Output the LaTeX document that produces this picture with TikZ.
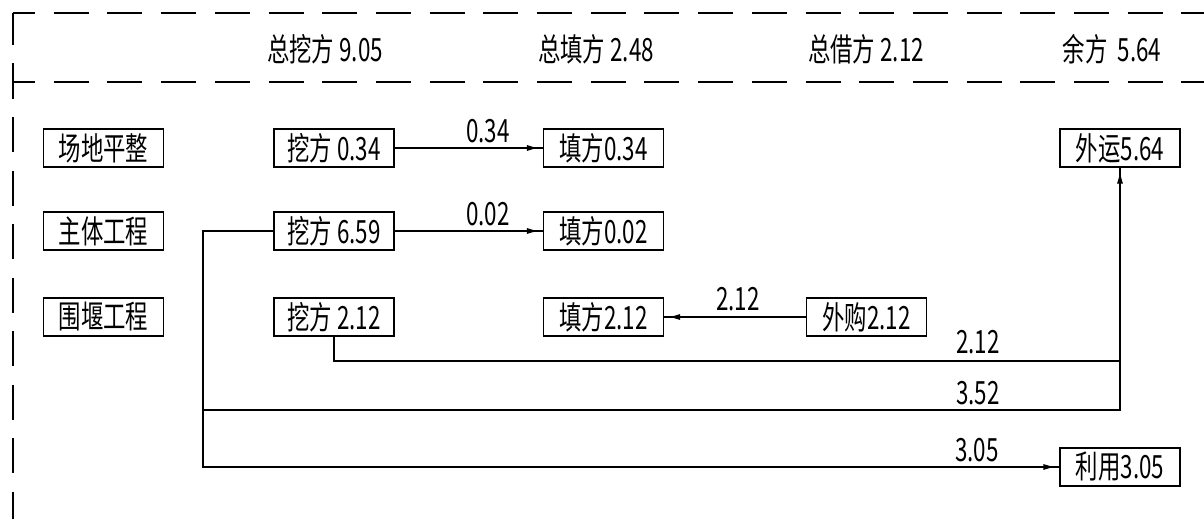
\documentclass[tikz,border=0pt]{standalone}
\usepackage{fontspec}
\newfontfamily\cad[FakeStretch=0.7]{Noto Sans CJK SC}
\usetikzlibrary{arrows.meta}
\tikzset{
  box/.style={draw, line width=1.2pt, minimum width=120pt, minimum height=38pt, inner sep=0pt, font=\cad\fontsize{32}{32}\selectfont},
  txt/.style={inner sep=0pt, font=\cad\fontsize{32}{32}\selectfont},
  lbl/.style={inner sep=0pt, font=\cad\fontsize{32}{32}\selectfont},
  conn/.style={line width=1.2pt},
  tip/.style={line width=1.2pt, -{Latex[length=12pt,width=6pt]}, shorten >=4pt},
  frameh/.style={line width=1.4pt, dash pattern=on 35pt off 18.7pt, dash phase=13pt},
  framev/.style={line width=1.4pt, dash pattern=on 35pt off 18.5pt, dash phase=3pt}
}
\begin{document}
\begin{tikzpicture}[x=1pt,y=-1pt]
\useasboundingbox (0,0) rectangle (1204,519);
% frame
\coordinate (fa) at (13,13);
\coordinate (fb) at (1204,13);
\coordinate (fc) at (13,82);
\coordinate (fd) at (1204,82);
\coordinate (fe) at (13,519);
\draw[framev] (fa) -- (fe);
\draw[frameh] (fa) -- (fb);
\draw[frameh] (fc) -- (fd);
% header
\node[txt] (h1) at (325,49) {总挖方 9.05};
\node[txt] (h2) at (596,49) {总填方 2.48};
\node[txt] (h3) at (866,49) {总借方 2.12};
\node[txt] (h4) at (1112,49) {余方\ \ 5.64};
% boxes
\node[box] (p1) at (103.5,148) {场地平整};
\node[box] (p2) at (103.5,231) {主体工程};
\node[box] (p3) at (103.5,317) {围堰工程};
\node[box] (a1) at (334,148) {挖方 0.34};
\node[box] (a2) at (334,231) {挖方 6.59};
\node[box] (a3) at (334,317) {挖方 2.12};
\node[box] (f1) at (603.5,148) {填方0.34};
\node[box] (f2) at (603.5,231) {填方0.02};
\node[box] (f3) at (603.5,317) {填方2.12};
\node[box] (g3) at (866.5,317) {外购2.12};
\node[box] (wy) at (1120,148) {外运5.64};
\node[box] (ly) at (1120,467) {利用3.05};
% junctions
\coordinate (jl) at (203,400);
\coordinate (jb) at (203,410);
\coordinate (jr) at (1120,361);
% connectors
\draw[conn] (a1.east) -- (f1.west);
\draw[tip] (a1.east) -- (f1.west);
\draw[conn] (a2.east) -- (f2.west);
\draw[tip] (a2.east) -- (f2.west);
\draw[conn] (g3.west) -- (f3.east);
\draw[tip] (g3.west) -- (f3.east);
\draw[conn] (a2.west) -| (jl) |- (ly.west);
\draw[tip] (jl) |- (ly.west);
\draw[conn] (jb) -| (wy.south);
\draw[tip] (jb) -| (wy.south);
\draw[conn] (a3.south) |- (jr);
% labels
\node[lbl] (l1) at (488,131) {0.34};
\node[lbl] (l2) at (488,214) {0.02};
\node[lbl] (l3) at (738,299) {2.12};
\node[lbl] (l4) at (978,342) {2.12};
\node[lbl] (l5) at (978,393) {3.52};
\node[lbl] (l6) at (977,450) {3.05};
\end{tikzpicture}
\end{document}
